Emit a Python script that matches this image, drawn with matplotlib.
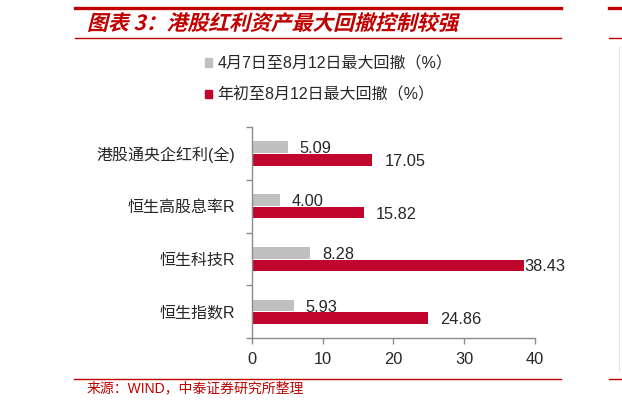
import numpy as np
import matplotlib
matplotlib.use("Agg")
import matplotlib.pyplot as plt
from matplotlib.lines import Line2D
from matplotlib.patches import Patch, PathPatch
from matplotlib.textpath import TextPath
from matplotlib.font_manager import FontProperties
from matplotlib.transforms import Affine2D

plt.rcParams['font.family'] = ['Liberation Sans', 'Noto Sans CJK SC']

# data
categories = ['港股通央企红利(全)', '恒生高股息率R', '恒生科技R', '恒生指数R']
apr_aug = [5.09, 4.00, 8.28, 5.93]
ytd_aug = [17.05, 15.82, 38.43, 24.86]
series_names = ['4月7日至8月12日最大回撤（%）', '年初至8月12日最大回撤（%）']
xticks = [0, 10, 20, 30, 40]
title = '图表 3：港股红利资产最大回撤控制较强'
source = '来源：WIND，中泰证券研究所整理'

gray = '#C0C0C0'
red = '#C0062D'
line_red = '#C00000'
W, H = 622, 409

fig = plt.figure(figsize=(W / 100, H / 100), dpi=100)
ax = fig.add_axes([251.7 / W, 1 - 338.3 / H, (535 - 251.7) / W, (338.3 - 127) / H])

y = np.arange(len(categories))
bh = 0.22
ax.barh(y - 0.12, apr_aug, height=bh, color=gray)
ax.barh(y + 0.12, ytd_aug, height=bh, color=red)

offsets = [12, 12, 12, 12]
red_offsets = [12, 12, 0, 12]
for i in range(len(categories)):
    ax.annotate(f'{apr_aug[i]:.2f}', (apr_aug[i], y[i] - 0.12), xytext=(offsets[i], -1.5),
                textcoords='offset pixels', va='center', ha='left', fontsize=11.8,
                color='#262626', annotation_clip=False)
    ax.annotate(f'{ytd_aug[i]:.2f}', (ytd_aug[i], y[i] + 0.12), xytext=(red_offsets[i], -1.5),
                textcoords='offset pixels', va='center', ha='left', fontsize=11.8,
                color='#262626', annotation_clip=False)

ax.set_ylim(len(categories) - 0.5, -0.5)
ax.set_xlim(0, 40)
ax.set_xticks(xticks)
ax.set_yticks(np.arange(-0.5, len(categories)), labels=[''] * (len(categories) + 1))
ax.set_yticks(y, labels=categories, minor=True)
ax.tick_params(axis='y', which='major', length=4, color='#8C8C8C', width=1)
ax.tick_params(axis='y', which='minor', length=0, pad=12, labelsize=11.5, labelcolor='#262626')
ax.tick_params(axis='x', length=4, color='#8C8C8C', width=1, pad=6, labelsize=11.8,
               labelcolor='#262626')
for s in ['top', 'right']:
    ax.spines[s].set_visible(False)
for s in ['left', 'bottom']:
    ax.spines[s].set_color('#8C8C8C')
    ax.spines[s].set_linewidth(1)

# legend
handles = [Patch(color=gray), Patch(color=red)]
fig.legend(handles, series_names, loc='upper left', bbox_to_anchor=(205 / W, 1 - 56 / H),
           frameon=False, fontsize=11.5, handlelength=0.42, handleheight=0.42,
           handletextpad=0.35, labelspacing=1.0, borderpad=0, borderaxespad=0,
           labelcolor='#262626')

# page decorations
def hline(x0, x1, yy, lw):
    fig.add_artist(Line2D([x0 / W, x1 / W], [1 - yy / H, 1 - yy / H], color=line_red,
                          lw=lw, transform=fig.transFigure))

hline(75, 561, 8, 2.4)
hline(75, 561, 37.5, 1.0)
hline(609, 622, 8, 2.4)
hline(609, 622, 37.5, 1.0)
hline(74, 561, 378.5, 1.0)
hline(609, 622, 378.5, 1.0)
fig.add_artist(Line2D([619 / W, 619 / W], [1 - 46 / H, 1 - 370 / H], color='#E4E4E4',
                      lw=0.8, transform=fig.transFigure))

# slanted bold title
tp = TextPath((0, 0), title, size=15,
              prop=FontProperties(family='Noto Sans CJK SC', weight='bold'))
tr = Affine2D().skew_deg(14, 0).scale(1 / 72).translate(87 / 100, (H - 30) / 100) + fig.dpi_scale_trans
fig.add_artist(PathPatch(tp, transform=tr, facecolor=line_red, edgecolor='none'))

fig.text(87 / W, 1 - 388 / H, source, fontsize=10, color=line_red, va='center', ha='left')

fig.savefig('out.png', dpi=100)
